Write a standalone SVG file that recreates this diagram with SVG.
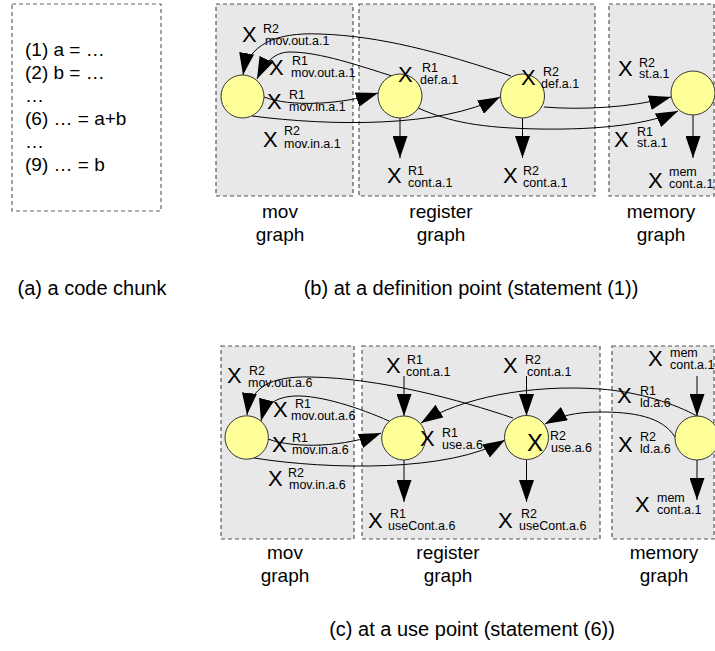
<svg xmlns="http://www.w3.org/2000/svg" width="715" height="651" viewBox="0 0 715 651">
<defs>
<style>
text{font-family:"Liberation Sans",Arial,Helvetica,sans-serif;fill:#000}
.box{fill:#e8e8e8;stroke:#555;stroke-width:1.2;stroke-dasharray:4 3}
.cbox{fill:#fff;stroke:#666;stroke-width:1.2;stroke-dasharray:4 3}
.node{fill:#ffff99;stroke:#333;stroke-width:1}
.edge{fill:none;stroke:#000;stroke-width:1;marker-end:url(#ah)}
.x{font-size:22px}
.s{font-size:12.5px}
.code{font-size:19px}
.lbl{font-size:19px;text-anchor:middle}
.cap{font-size:20px;text-anchor:middle}
</style>
<marker id="ah" markerUnits="userSpaceOnUse" markerWidth="22" markerHeight="15" refX="22" refY="7.5" orient="auto">
<path d="M0,0 L22,7.5 L0,15 z" fill="#000"/>
</marker>
</defs>

<g id="panel-a">
<rect class="cbox" x="12" y="4" width="149" height="207"/>
<text class="code" x="25" y="56">(1) a = …</text>
<text class="code" x="25" y="79">(2) b = …</text>
<text class="code" x="25" y="102">…</text>
<text class="code" x="25" y="125">(6) … = a+b</text>
<text class="code" x="25" y="148">…</text>
<text class="code" x="25" y="171">(9) … = b</text>
<text class="cap" x="92" y="295">(a) a code chunk</text>
</g>

<g id="panel-b-boxes">
<rect class="box" x="216" y="4" width="137" height="192"/>
<rect class="box" x="359" y="4" width="236" height="192"/>
<rect class="box" x="609" y="4" width="105" height="192"/>
<text class="lbl" x="280" y="218">mov</text>
<text class="lbl" x="280" y="241">graph</text>
<text class="lbl" x="441" y="218">register</text>
<text class="lbl" x="441" y="241">graph</text>
<text class="lbl" x="661" y="218">memory</text>
<text class="lbl" x="661" y="241">graph</text>
<text class="cap" x="471" y="295">(b) at a definition point (statement (1))</text>
</g>

<g id="panel-c-boxes">
<rect class="box" x="221" y="346" width="133" height="193"/>
<rect class="box" x="362" y="346" width="238" height="193"/>
<rect class="box" x="612" y="346" width="102" height="193"/>
<text class="lbl" x="285" y="559">mov</text>
<text class="lbl" x="285" y="582">graph</text>
<text class="lbl" x="448" y="559">register</text>
<text class="lbl" x="448" y="582">graph</text>
<text class="lbl" x="664" y="559">memory</text>
<text class="lbl" x="664" y="582">graph</text>
<text class="cap" x="472" y="636">(c) at a use point (statement (6))</text>
</g>

<g id="connectors">
<path class="edge" d="M511,76 C440,52 380,36 320,34 C275,32 248,45 243,75"/>
<path class="edge" d="M392,76 C360,66 320,52 290,52 C275,52 265,62 257,79"/>
<path class="edge" d="M264,97 C290,107 340,105 378,93"/>
<path class="edge" d="M252,116 C330,126 440,128 500,97"/>
<path class="edge" d="M418,108 C450,122 480,128 540,129 C600,130 650,124 678,111"/>
<path class="edge" d="M544,107 C580,110 630,108 671,97"/>
<path class="edge" d="M400,118 L400,158"/>
<path class="edge" d="M522.5,118 L522.5,158"/>
<path class="edge" d="M693,115 L693,158"/>

<path class="edge" d="M513,418 C460,400 380,378 310,377 C270,376 250,388 247,415"/>
<path class="edge" d="M389,421 C360,408 320,395 295,396 C275,397 265,405 261,421"/>
<path class="edge" d="M268,439 C295,449 345,447 381,433"/>
<path class="edge" d="M254,458 C330,470 450,472 505,440"/>
<path class="edge" d="M697,416 C675,404 640,392 600,389 C530,384 460,398 421,423"/>
<path class="edge" d="M675,437 C662,416 632,412 600,412 C575,412 560,416 545,424"/>
<path class="edge" d="M404,376 L404,416"/>
<path class="edge" d="M526.5,376 L526.5,416"/>
<path class="edge" d="M404,460 L404,502"/>
<path class="edge" d="M526.5,460 L526.5,502"/>
<path class="edge" d="M697,376 L697,416"/>
<path class="edge" d="M697,460 L697,500"/>
</g>

<g id="node-b-mov"><circle class="node" cx="242.5" cy="96.5" r="21.5"/></g>
<g id="node-b-reg-r1"><circle class="node" cx="400" cy="96" r="22"/></g>
<g id="node-b-reg-r2"><circle class="node" cx="522.5" cy="96" r="22"/></g>
<g id="node-b-mem"><circle class="node" cx="693" cy="93" r="22"/></g>

<g id="node-c-mov"><circle class="node" cx="246.7" cy="437.5" r="21.7"/></g>
<g id="node-c-reg-r1"><circle class="node" cx="403.7" cy="438" r="22"/></g>
<g id="node-c-reg-r2"><circle class="node" cx="526.5" cy="437.5" r="22"/></g>
<g id="node-c-mem"><circle class="node" cx="697" cy="438" r="22"/></g>

<g id="labels-b">
<text class="x" x="242" y="41.5">X</text><text class="s" x="263" y="33">R2</text><text class="s" x="265" y="45">mov.out.a.1</text>
<text class="x" x="269" y="74.5">X</text><text class="s" x="292" y="65">R1</text><text class="s" x="291" y="77">mov.out.a.1</text>
<text class="x" x="267" y="109">X</text><text class="s" x="289" y="99">R1</text><text class="s" x="289" y="111">mov.in.a.1</text>
<text class="x" x="263" y="147">X</text><text class="s" x="284" y="135">R2</text><text class="s" x="284" y="148">mov.in.a.1</text>
<text class="x" x="398" y="82">X</text><text class="s" x="422" y="72">R1</text><text class="s" x="420" y="84">def.a.1</text>
<text class="x" x="521" y="85">X</text><text class="s" x="543" y="76">R2</text><text class="s" x="541" y="88">def.a.1</text>
<text class="x" x="387" y="183">X</text><text class="s" x="408" y="175">R1</text><text class="s" x="408" y="187">cont.a.1</text>
<text class="x" x="503" y="183">X</text><text class="s" x="523" y="175">R2</text><text class="s" x="523" y="187">cont.a.1</text>
<text class="x" x="618" y="76">X</text><text class="s" x="639" y="67">R2</text><text class="s" x="639" y="78">st.a.1</text>
<text class="x" x="614" y="147">X</text><text class="s" x="637" y="136">R1</text><text class="s" x="637" y="147">st.a.1</text>
<text class="x" x="648" y="188">X</text><text class="s" x="669" y="176">mem</text><text class="s" x="669" y="188">cont.a.1</text>
</g>

<g id="labels-c">
<text class="x" x="227" y="383">X</text><text class="s" x="249" y="375">R2</text><text class="s" x="248" y="387">mov.out.a.6</text>
<text class="x" x="273" y="417">X</text><text class="s" x="295" y="408">R1</text><text class="s" x="291" y="420">mov.out.a.6</text>
<text class="x" x="272" y="452">X</text><text class="s" x="292" y="442">R1</text><text class="s" x="292" y="454">mov.in.a.6</text>
<text class="x" x="268" y="486">X</text><text class="s" x="288" y="477">R2</text><text class="s" x="289" y="489">mov.in.a.6</text>
<text class="x" x="386" y="373">X</text><text class="s" x="407" y="364">R1</text><text class="s" x="406" y="376">cont.a.1</text>
<text class="x" x="503" y="373">X</text><text class="s" x="525" y="364">R2</text><text class="s" x="527" y="376">cont.a.1</text>
<text class="x" x="420" y="446">X</text><text class="s" x="442" y="437">R1</text><text class="s" x="442" y="449">use.a.6</text>
<text class="x" x="527" y="451" style="font-size:24px">X</text><text class="s" x="550" y="440">R2</text><text class="s" x="551" y="452">use.a.6</text>
<text class="x" x="368" y="528">X</text><text class="s" x="390" y="518">R1</text><text class="s" x="388" y="530">useCont.a.6</text>
<text class="x" x="498" y="528">X</text><text class="s" x="521" y="518">R2</text><text class="s" x="519" y="530">useCont.a.6</text>
<text class="x" x="648" y="366">X</text><text class="s" x="670" y="357">mem</text><text class="s" x="670" y="369">cont.a.1</text>
<text class="x" x="617" y="403">X</text><text class="s" x="640" y="395">R1</text><text class="s" x="640" y="407">ld.a.6</text>
<text class="x" x="618" y="452">X</text><text class="s" x="640" y="441">R2</text><text class="s" x="640" y="453">ld.a.6</text>
<text class="x" x="635" y="512">X</text><text class="s" x="657" y="502">mem</text><text class="s" x="657" y="514">cont.a.1</text>
</g>
</svg>
